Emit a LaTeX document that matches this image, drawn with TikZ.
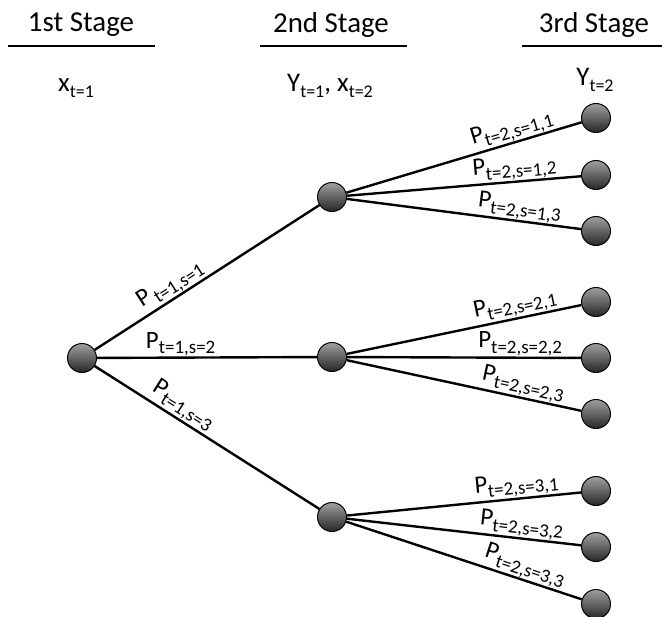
\documentclass[tikz,border=0pt]{standalone}
\usepackage{fontspec}
\setmainfont{Carlito}
\newcommand\Pl[1]{{\fontsize{25}{28}\selectfont P}\raisebox{-5.5bp}{\fontsize{19}{22}\selectfont #1}}
\newcommand\Sb[1]{\raisebox{-5.5bp}{\fontsize{18}{21}\selectfont #1}}
\begin{document}
\begin{tikzpicture}[x=1bp,y=1bp,
  ballnode/.style={circle, minimum size=29bp, inner sep=0pt, draw=black, line width=1bp,
    shading=axis, top color=gray!75, bottom color=black!85, shading angle=0},
  edge/.style={line width=2.4bp, black},
  lab/.style={sloped, above, inner sep=0.5bp},
  header/.style={font=\fontsize{29}{33}\selectfont, inner sep=0pt},
  rule/.style={line width=2.4bp},
  varlab/.style={font=\fontsize{27}{31}\selectfont, inner sep=0pt}]
\useasboundingbox (0,0) rectangle (662,-617);
% headers
\node[header] (h1) at (81,-25) {1st Stage};
\node[header] (h2) at (331,-25) {2nd Stage};
\node[header] (h3) at (594,-25) {3rd Stage};
\coordinate (u1a) at (8,-46); \coordinate (u1b) at (155,-46);
\coordinate (u2a) at (260,-46); \coordinate (u2b) at (407,-46);
\coordinate (u3a) at (522,-46); \coordinate (u3b) at (662,-46);
\draw[rule] (u1a) -- (u1b);
\draw[rule] (u2a) -- (u2b);
\draw[rule] (u3a) -- (u3b);
\node[varlab] (v1) at (76,-88) {x\Sb{t=1}};
\node[varlab] (v2) at (330,-86) {Y\Sb{t=1}, x\Sb{t=2}};
\node[varlab] (v3) at (595,-80) {Y\Sb{t=2}};
% nodes
\node[ballnode] (r) at (82,-358) {};
\node[ballnode] (m1) at (332,-197) {};
\node[ballnode] (m2) at (332,-357) {};
\node[ballnode] (m3) at (332,-517) {};
\node[ballnode] (l11) at (596,-118) {};
\node[ballnode] (l12) at (596,-175) {};
\node[ballnode] (l13) at (596,-231) {};
\node[ballnode] (l21) at (596,-302) {};
\node[ballnode] (l22) at (596,-358) {};
\node[ballnode] (l23) at (596,-414) {};
\node[ballnode] (l31) at (596,-491) {};
\node[ballnode] (l32) at (596,-547) {};
\node[ballnode] (l33) at (596,-604) {};
% edges
\draw[edge] (r) -- node[lab,pos=0.37]{\Pl{\,t=1,s=1}} (m1);
\draw[edge] (r) -- node[lab,pos=0.38]{\Pl{t=1,s=2}} (m2);
\draw[edge] (r) -- node[lab,pos=0.36]{\Pl{t=1,s=3}} (m3);
\draw[edge] (m1) -- node[lab,pos=0.72]{\Pl{t=2,s=1,1}} (l11);
\draw[edge] (m1) -- node[lab,pos=0.72]{\Pl{t=2,s=1,2}} (l12);
\draw[edge] (m1) -- node[lab,pos=0.73]{\Pl{t=2,s=1,3}} (l13);
\draw[edge] (m2) -- node[lab,pos=0.73]{\Pl{t=2,s=2,1}} (l21);
\draw[edge] (m2) -- node[lab,pos=0.74]{\Pl{t=2,s=2,2}} (l22);
\draw[edge] (m2) -- node[lab,pos=0.74]{\Pl{t=2,s=2,3}} (l23);
\draw[edge] (m3) -- node[lab,pos=0.73]{\Pl{t=2,s=3,1}} (l31);
\draw[edge] (m3) -- node[lab,pos=0.74]{\Pl{t=2,s=3,2}} (l32);
\draw[edge] (m3) -- node[lab,pos=0.74]{\Pl{t=2,s=3,3}} (l33);
\end{tikzpicture}
\end{document}
